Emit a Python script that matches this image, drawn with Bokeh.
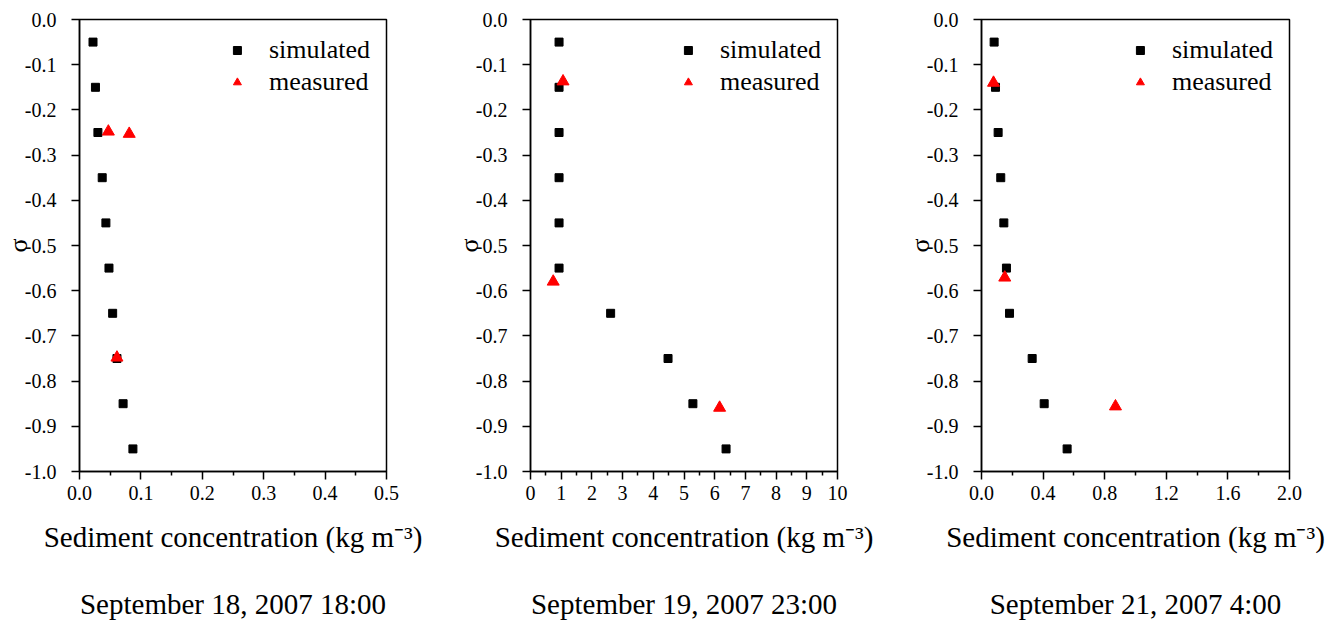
from bokeh.plotting import figure
from bokeh.layouts import row
from bokeh.models import Range1d, FixedTicker, PrintfTickFormatter, LinearAxis
from bokeh.embed import file_html
from bokeh.resources import INLINE

FONT = "Liberation Serif"

# sigma levels of the simulated profile
sigma = [-0.05, -0.15, -0.25, -0.35, -0.45, -0.55, -0.65, -0.75, -0.85, -0.95]

# Panel 1: September 18, 2007 18:00
sim1 = [0.022, 0.026, 0.030, 0.037, 0.043, 0.048, 0.054, 0.061, 0.071, 0.087]
meas1_x = [0.047, 0.081, 0.061]
meas1_y = [-0.248, -0.253, -0.748]

# Panel 2: September 19, 2007 23:00
sim2 = [0.93, 0.93, 0.93, 0.93, 0.93, 0.93, 2.61, 4.48, 5.29, 6.37]
meas2_x = [1.06, 0.74, 6.16]
meas2_y = [-0.137, -0.58, -0.859]

# Panel 3: September 21, 2007 4:00
sim3 = [0.082, 0.091, 0.108, 0.125, 0.145, 0.162, 0.182, 0.329, 0.407, 0.556]
meas3_x = [0.078, 0.151, 0.87]
meas3_y = [-0.14, -0.571, -0.856]

# ticks
yticks = [0.0, -0.1, -0.2, -0.3, -0.4, -0.5, -0.6, -0.7, -0.8, -0.9, -1.0]
xticks1 = [0.0, 0.1, 0.2, 0.3, 0.4, 0.5]
xminor1 = [0.05, 0.15, 0.25, 0.35, 0.45]
xticks2 = [0, 1, 2, 3, 4, 5, 6, 7, 8, 9, 10]
xminor2 = [0.5, 1.5, 2.5, 3.5, 4.5, 5.5, 6.5, 7.5, 8.5, 9.5]
xticks3 = [0.0, 0.4, 0.8, 1.2, 1.6, 2.0]
xminor3 = [0.2, 0.6, 1.0, 1.4, 1.8]

dates = ["September 18, 2007 18:00", "September 19, 2007 23:00", "September 21, 2007 4:00"]
xlabel = "Sediment concentration (kg m\u207b\u00b3)"
ylabel = "σ"
legend_names = ["simulated", "measured"]


def make_panel(sim_x, mx, my, xmax, xticks, xminor, xfmt, width, left, right, date):
    p = figure(width=width, height=625, output_backend="svg", toolbar_location=None,
               x_range=Range1d(0, xmax), y_range=Range1d(-1.0, 0.0),
               min_border_left=left, min_border_right=right,
               min_border_top=19, min_border_bottom=154)
    p.background_fill_color = "white"
    p.border_fill_color = "white"
    p.grid.visible = False
    p.outline_line_color = "black"
    p.outline_line_width = 1.5
    p.outline_line_alpha = 1.0

    p.scatter(sim_x, sigma, marker="square", size=8, color="black",
              legend_label=legend_names[0])
    p.scatter(mx, my, marker="triangle", size=12, color="red",
              legend_label=legend_names[1])

    xa = p.xaxis[0]
    xa.ticker = FixedTicker(ticks=xticks, minor_ticks=xminor)
    xa.formatter = PrintfTickFormatter(format=xfmt)
    xa.major_tick_out = 8
    xa.major_tick_in = 0
    xa.minor_tick_out = 4
    xa.minor_tick_in = 0
    xa.major_label_standoff = 6
    xa.axis_label = xlabel
    xa.axis_label_text_font = FONT
    xa.axis_label_text_font_size = "29px"
    xa.axis_label_text_font_style = "normal"
    xa.axis_label_text_color = "black"
    xa.axis_label_standoff = 18

    ya = p.yaxis[0]
    ya.ticker = FixedTicker(ticks=yticks, minor_ticks=[])
    ya.formatter = PrintfTickFormatter(format="%.1f")
    ya.major_tick_out = 8
    ya.major_tick_in = 0
    ya.minor_tick_out = 0
    ya.minor_tick_in = 0
    ya.major_label_standoff = 15
    ya.axis_label = ylabel
    ya.axis_label_text_font = FONT
    ya.axis_label_text_font_size = "26px"
    ya.axis_label_text_font_style = "normal"
    ya.axis_label_text_color = "black"
    ya.axis_label_standoff = -11

    for ax in (xa, ya):
        ax.axis_line_color = "black"
        ax.axis_line_width = 1.5
        ax.major_tick_line_color = "black"
        ax.major_tick_line_width = 1.5
        ax.minor_tick_line_color = "black"
        ax.minor_tick_line_width = 1.5
        ax.major_label_text_font = FONT
        ax.major_label_text_font_size = "20px"
        ax.major_label_text_color = "black"

    # caption (date) drawn as the label of a second, line-less bottom axis
    cap = LinearAxis(ticker=FixedTicker(ticks=[], minor_ticks=[]),
                     axis_line_alpha=0, major_tick_out=0, major_tick_in=0,
                     minor_tick_out=0, minor_tick_in=0,
                     axis_label=date, axis_label_text_font=FONT,
                     axis_label_text_font_size="29px",
                     axis_label_text_font_style="normal",
                     axis_label_text_color="black", axis_label_standoff=32)
    p.add_layout(cap, "below")

    lg = p.legend[0]
    lg.location = "top_right"
    lg.margin = 6
    lg.padding = 10
    lg.border_line_alpha = 0
    lg.background_fill_alpha = 0
    lg.label_text_font = FONT
    lg.label_text_font_size = "26px"
    lg.label_text_color = "black"
    lg.glyph_width = 20
    lg.glyph_height = 20
    lg.label_standoff = 22
    lg.spacing = 2
    return p


p1 = make_panel(sim1, meas1_x, meas1_y, 0.5, xticks1, xminor1, "%.1f", 450, 78, 64, dates[0])
p2 = make_panel(sim2, meas2_x, meas2_y, 10, xticks2, xminor2, "%d", 450, 80, 63, dates[1])
p3 = make_panel(sim3, meas3_x, meas3_y, 2.0, xticks3, xminor3, "%.1f", 439, 81, 50, dates[2])

layout = row(p1, p2, p3, spacing=0)
open("out.html", "w").write(file_html(layout, INLINE))
